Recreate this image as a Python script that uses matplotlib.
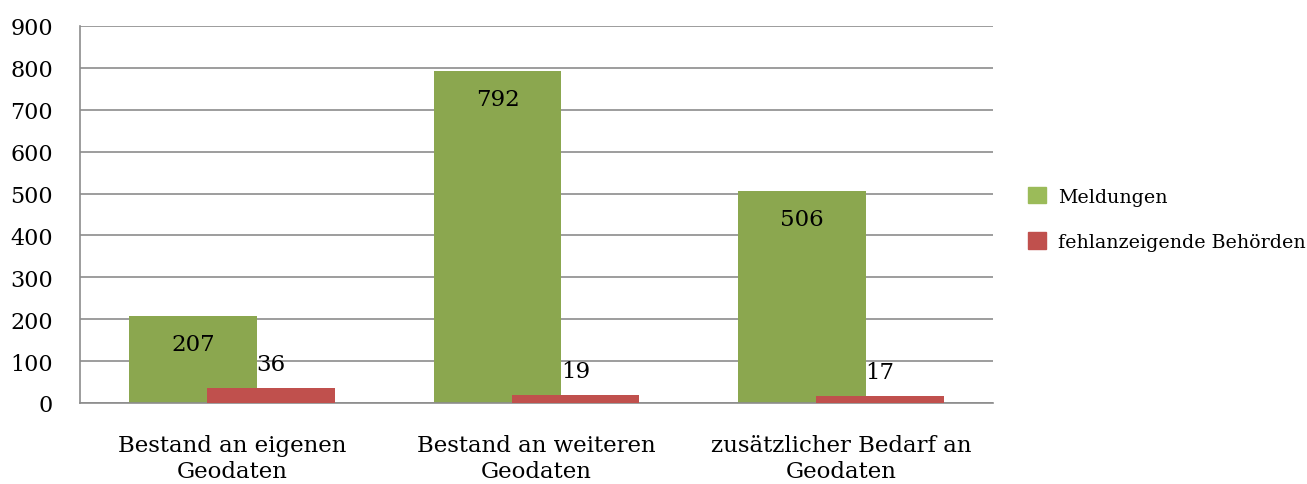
import matplotlib
matplotlib.use("Agg")
import matplotlib.pyplot as plt
import numpy as np
from matplotlib.patches import Patch

categories = ["Bestand an eigenen\nGeodaten", "Bestand an weiteren\nGeodaten", "zusätzlicher Bedarf an\nGeodaten"]
meldungen = [207, 792, 506]
fehlanzeigen = [36, 19, 17]
series_names = ["Meldungen", "fehlanzeigende Behörden"]
yticks = [0, 100, 200, 300, 400, 500, 600, 700, 800, 900]

plt.rcParams['font.family'] = ['DejaVu Serif']

fig = plt.figure(figsize=(13.07, 4.85), dpi=100)
ax = fig.add_axes([80/1307, 1-404/485, (993-80)/1307, (404-27)/485])

x = np.arange(len(categories))
w = 0.42
off = 0.128
ax.bar(x - off, meldungen, w, color="#8BA74F", zorder=2)
ax.bar(x + off, fehlanzeigen, w, color="#C0504D", zorder=3)

for xi, v in zip(x - off, meldungen):
    ax.text(xi, v - 28*900/377, str(v), ha="center", va="center", fontsize=16.5, zorder=4)
for xi, v in zip(x + off, fehlanzeigen):
    ax.text(xi, v + 24*900/377, str(v), ha="center", va="center", fontsize=16.5, zorder=4)

ax.set_xlim(-0.5, 2.5)
ax.set_ylim(0, 900)
ax.set_yticks(yticks)
ax.set_yticklabels([str(t) for t in yticks], fontsize=16)
ax.set_xticks(x)
ax.set_xticklabels(categories, fontsize=16.5, linespacing=1.25)
ax.tick_params(axis="x", length=0, pad=22)
ax.tick_params(axis="y", length=0, pad=19.5)
ax.grid(axis="y", color="#8C8C8C", linewidth=1.2, zorder=0)
for s in ["top", "right"]:
    ax.spines[s].set_visible(False)
for s in ["left", "bottom"]:
    ax.spines[s].set_color("#8C8C8C")
    ax.spines[s].set_linewidth(1.2)
ax.set_axisbelow(True)

handles = [Patch(color="#9BBB59"), Patch(color="#C0504D")]
fig.legend(handles, series_names, loc="center left", bbox_to_anchor=(1028/1307, 1-220/485),
           frameon=False, fontsize=13.7, handlelength=0.95, handleheight=0.95,
           labelspacing=1.4, handletextpad=0.65, borderpad=0, borderaxespad=0)

fig.savefig("out.png", dpi=100)
